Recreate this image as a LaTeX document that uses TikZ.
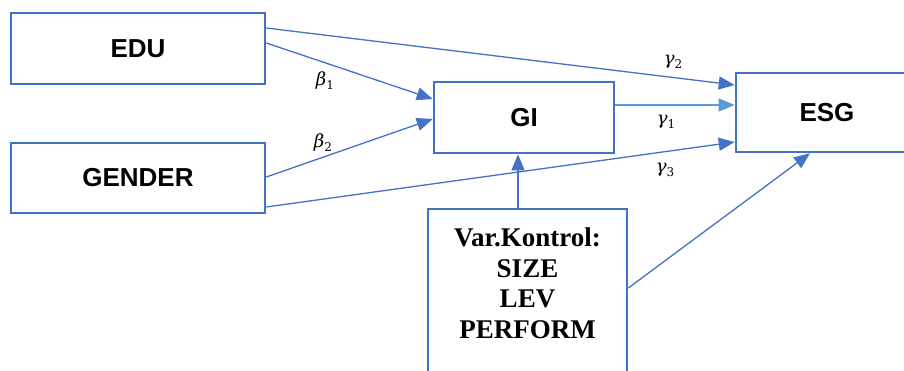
\documentclass[tikz,border=0pt]{standalone}
\usepackage{fontspec}
\setmainfont{Liberation Serif}
\newfontfamily\boxfont{Liberation Sans}
\newfontfamily\coeffont{DejaVu Serif}
\usetikzlibrary{arrows.meta,calc}
\definecolor{linkblue}{HTML}{4472C4}
\definecolor{lightlink}{HTML}{5B9BD5}
% coefficient with an italic Greek letter and an upright subscript
\newcommand{\coefsym}[2]{{\itshape #1}\raisebox{-4pt}{\fontsize{12}{13}\selectfont #2}}
\begin{document}
\begin{tikzpicture}[x=1pt,y=1pt,
  varbox/.style={draw=linkblue,line width=2.6pt,fill=white,inner sep=0pt},
  sanslabel/.style={font=\boxfont\bfseries\fontsize{26}{30}\selectfont},
  path/.style={draw=linkblue,line width=1.3pt,-{Triangle[length=16pt,width=13pt]}},
  coef/.style={inner sep=0pt,font=\coeffont\fontsize{18}{20}\selectfont}]
  \useasboundingbox (0,0) rectangle (904,371);
  \clip (0,0) rectangle (904,371);
  \fill[white] (0,0) rectangle (904,371);

  % variable boxes
  \node[varbox,sanslabel,minimum width=254pt,minimum height=71pt] (edu) at (138,322.5) {EDU};
  \node[varbox,sanslabel,minimum width=254pt,minimum height=70pt] (gender) at (138,193) {GENDER};
  \node[varbox,sanslabel,minimum width=180pt,minimum height=71pt] (gi) at (524,253.5) {GI};
  \node[varbox,minimum width=184pt,minimum height=79pt] (esg) at (828,258.5) {};
  \node[sanslabel,inner sep=0pt] (esgtext) at (827,258) {ESG};
  \node[varbox,minimum width=199pt,minimum height=191pt] (var) at (527.5,66.5) {};
  \node[anchor=north,align=center,inner sep=0pt,
        font=\bfseries\fontsize{27}{30.5}\selectfont] (vartext) at (527.5,143)
        {Var.Kontrol:\\SIZE\\LEV\\PERFORM};

  % direct paths
  \draw[path] ([yshift=20.5pt]edu.east) -- ([yshift=27.5pt]esg.west);
  \draw[path] ([yshift=5.5pt]edu.east) -- ([yshift=18.5pt]gi.west);
  \draw[path] ([yshift=1pt]gender.east) -- ([yshift=-1.5pt]gi.west);
  \draw[path,draw=lightlink,-{Triangle[length=16pt,width=13pt,fill=lightlink]}]
        ([yshift=12.5pt]gi.east) -- ([yshift=7.5pt]esg.west);
  \draw[path] ([yshift=-29pt]gender.east) -- ([yshift=-29.5pt]esg.west);

  % control variables
  \coordinate (gifoot) at ([xshift=-6pt]gi.south);
  \draw[path] (var.north -| gifoot) -- (gifoot);
  \draw[path] ([yshift=16.5pt]var.east) -- ([xshift=-18pt]esg.south);

  % coefficients
  \node[coef] (b1) at (325,290) {\coefsym{β}{1}};
  \node[coef] (b2) at (323,228) {\coefsym{β}{2}};
  \node[coef] (g2) at (673,309) {\coefsym{γ}{2}};
  \node[coef] (g1) at (666,249) {\coefsym{γ}{1}};
  \node[coef] (g3) at (665,201) {\coefsym{γ}{3}};
\end{tikzpicture}
\end{document}
